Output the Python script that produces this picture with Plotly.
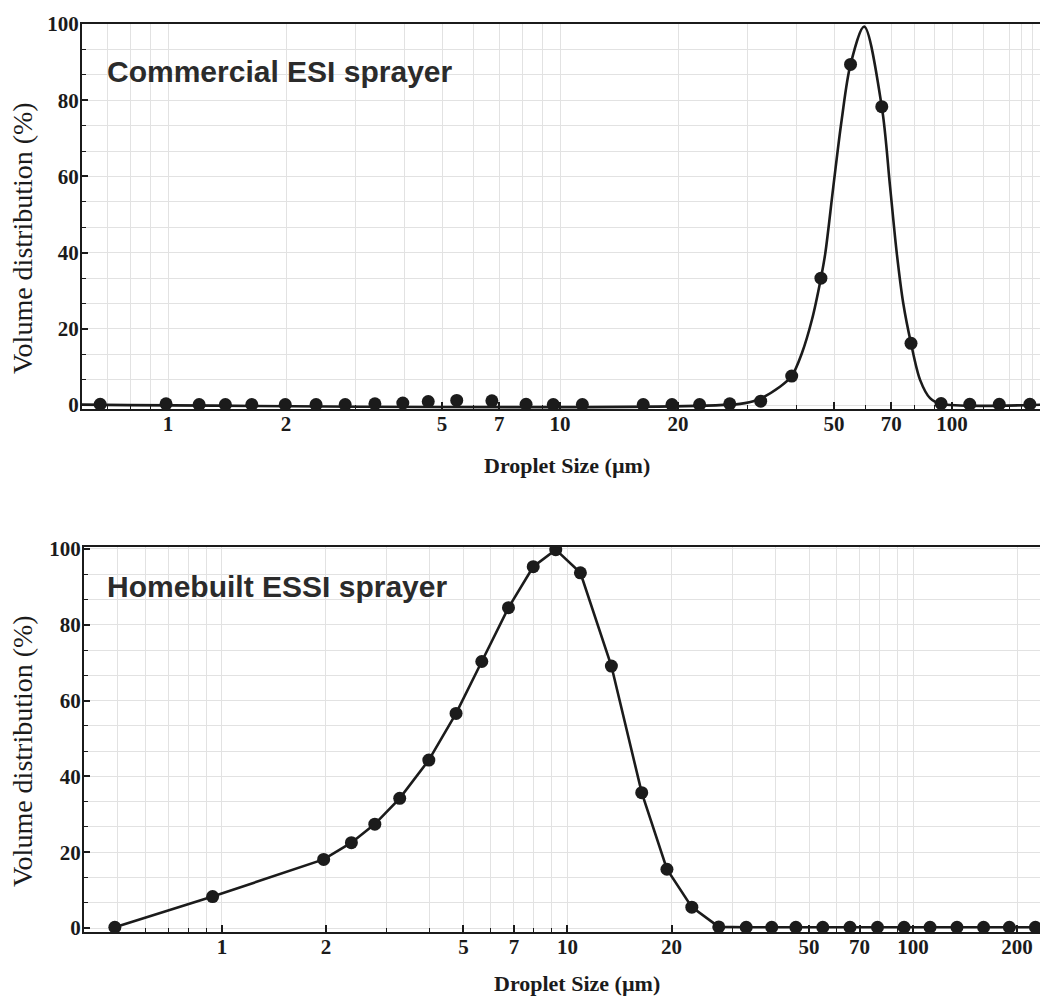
import math
import plotly.graph_objects as go

# ---------------- data ----------------
# Commercial ESI sprayer: measured points
esi_size = [0.671, 0.988, 1.20, 1.40, 1.635, 1.99, 2.385, 2.83, 3.37, 3.97, 4.61, 5.45, 6.70,
            8.19, 9.61, 11.4, 16.3, 19.3, 22.7, 27.1, 32.5, 39.0, 46.3, 55.1, 66.2, 78.6,
            93.8, 111, 132, 158]
esi_vol = [0.2, 0.3, 0.1, 0.1, 0.1, 0.1, 0.1, 0.1, 0.3, 0.5, 0.9, 1.2, 1.1,
           0.2, 0.1, 0.1, 0.1, 0.1, 0.1, 0.3, 1.0, 7.6, 33.3, 89.4, 78.3, 16.2,
           0.4, 0.2, 0.2, 0.2]
# Commercial ESI sprayer: smooth fitted curve
esi_fit_size = [0.6, 28.8, 31.8, 36.4, 39.0, 41.4, 43.9, 46.3, 47.5, 49.8, 52.3, 55.1,
                59.7, 66.2, 69.5, 72.3, 75.1, 78.6, 82.9, 87.9, 93.8, 170]
esi_fit_vol = [0.1, 0.3, 1.3, 4.8, 7.6, 13.6, 22.3, 33.3, 39.8, 57.3, 74.8, 89.4,
               99.3, 78.3, 57.3, 39.8, 26.7, 16.2, 6.6, 1.8, 0.3, 0.1]

# Homebuilt ESSI sprayer
essi_size = [0.49, 0.94, 1.97, 2.37, 2.77, 3.27, 3.97, 4.76, 5.65, 6.75, 7.96, 9.25, 10.9,
             13.4, 16.4, 19.4, 22.9, 27.4, 32.9, 39.0, 45.8, 54.8, 65.7, 78.9, 94.2, 112,
             134, 160, 190, 226]
essi_vol = [0.2, 8.3, 18.1, 22.5, 27.4, 34.2, 44.3, 56.6, 70.3, 84.5, 95.3, 99.8, 93.7,
            69.1, 35.7, 15.5, 5.5, 0.3, 0.2, 0.2, 0.2, 0.2, 0.2, 0.2, 0.2, 0.2,
            0.2, 0.2, 0.2, 0.2]

top_major = [1, 2, 5, 7, 10, 20, 50, 70, 100]
bot_major = [1, 2, 5, 7, 10, 20, 50, 70, 100, 200]
top_minor = [0.7, 0.8, 0.9, 3, 4, 6, 8, 9, 30, 40, 60, 80, 90, 120, 140, 150, 160]
bot_minor = [0.5, 0.6, 0.7, 0.8, 0.9, 3, 4, 6, 8, 9, 30, 40, 60, 80, 90]

title_top = "Commercial ESI sprayer"
title_bot = "Homebuilt ESSI sprayer"
ytitle = "Volume distribution (%)"
xtitle = "Droplet Size (µm)"

# ---------------- style ----------------
W, H = 1040, 998
INK = "#1b1b1b"
GRID = "#e2e2e2"
tickfont = dict(family="Liberation Serif", size=21, color=INK, weight="bold")


def px(x):
    return x / W


def py(y):
    return 1 - y / H


fig = go.Figure()

fig.add_trace(go.Scatter(x=esi_fit_size, y=esi_fit_vol, mode="lines",
                         line=dict(color=INK, width=2.6, shape="spline", smoothing=0.9),
                         xaxis="x", yaxis="y", showlegend=False, hoverinfo="skip"))
fig.add_trace(go.Scatter(x=esi_size, y=esi_vol, mode="markers",
                         marker=dict(color=INK, size=13),
                         xaxis="x", yaxis="y", showlegend=False))
fig.add_trace(go.Scatter(x=essi_size, y=essi_vol, mode="lines+markers",
                         line=dict(color=INK, width=2.6),
                         marker=dict(color=INK, size=13),
                         xaxis="x2", yaxis="y2", showlegend=False))


def xaxis(domain, rng, major, minor, anchor):
    return dict(domain=domain, type="log", range=rng, anchor=anchor, automargin=False,
                tickmode="array", tickvals=major, ticktext=[str(v) for v in major],
                ticks="inside", ticklen=7, tickwidth=1.5, tickcolor=INK,
                ticklabelstandoff=-5,
                tickfont=tickfont, showgrid=True, gridcolor=GRID, gridwidth=1,
                showline=True, linecolor=INK, linewidth=2.2, mirror=True,
                zeroline=False,
                minor=dict(tickmode="array", tickvals=minor, ticks="inside", ticklen=4,
                           tickwidth=1.2, tickcolor=INK, showgrid=True, gridcolor=GRID,
                           gridwidth=1))


def yaxis(domain, rng, anchor):
    return dict(domain=domain, range=rng, anchor=anchor, automargin=False,
                tickmode="linear", tick0=0, dtick=20,
                ticks="inside", ticklen=6, tickwidth=1.5, tickcolor=INK,
                ticklabelstandoff=-3,
                tickfont=tickfont, showgrid=True, gridcolor=GRID, gridwidth=1,
                showline=True, linecolor=INK, linewidth=2.2, mirror=False,
                zeroline=False,
                minor=dict(tick0=0, dtick=20 / 3, ticks="inside", ticklen=4, tickwidth=1.2,
                           tickcolor=INK, showgrid=True, gridcolor=GRID, gridwidth=1))


fig.update_layout(
    width=W, height=H,
    margin=dict(l=0, r=0, t=0, b=0, pad=0, autoexpand=False),
    paper_bgcolor="white", plot_bgcolor="white",
    xaxis=xaxis([px(82), 1], [math.log10(0.603), math.log10(167.7)], top_major, top_minor, "y"),
    yaxis=yaxis([py(409), py(24)], [-1.05, 100], "x"),
    xaxis2=xaxis([px(84), 1], [math.log10(0.399), math.log10(233)], bot_major, bot_minor, "y2"),
    yaxis2=yaxis([py(932), py(547)], [-1.05, 100.5], "x2"),
)

ann = []
for (cx, cy) in [(22, 238), (22, 751)]:
    ann.append(dict(text=ytitle, x=px(cx), y=py(cy), xref="paper", yref="paper",
                    textangle=-90, showarrow=False, xanchor="center", yanchor="middle",
                    font=dict(family="Liberation Serif", size=28, color=INK)))
ann.append(dict(text=xtitle, x=px(567), y=py(465), xref="paper", yref="paper",
                showarrow=False, xanchor="center", yanchor="middle",
                font=dict(family="Liberation Serif", size=22, color=INK, weight="bold")))
ann.append(dict(text=xtitle, x=px(577), y=py(997), xref="paper", yref="paper",
                showarrow=False, xanchor="center", yanchor="bottom", borderpad=0,
                font=dict(family="Liberation Serif", size=22, color=INK, weight="bold")))
for (t, cy) in [(title_top, 71), (title_bot, 586)]:
    ann.append(dict(text=t, x=px(105), y=py(cy), xref="paper", yref="paper",
                    showarrow=False, xanchor="left", yanchor="middle",
                    font=dict(family="Liberation Sans", size=30, color="#2b2b2b", weight="bold")))
fig.update_layout(annotations=ann)

fig.write_html("out.html")
